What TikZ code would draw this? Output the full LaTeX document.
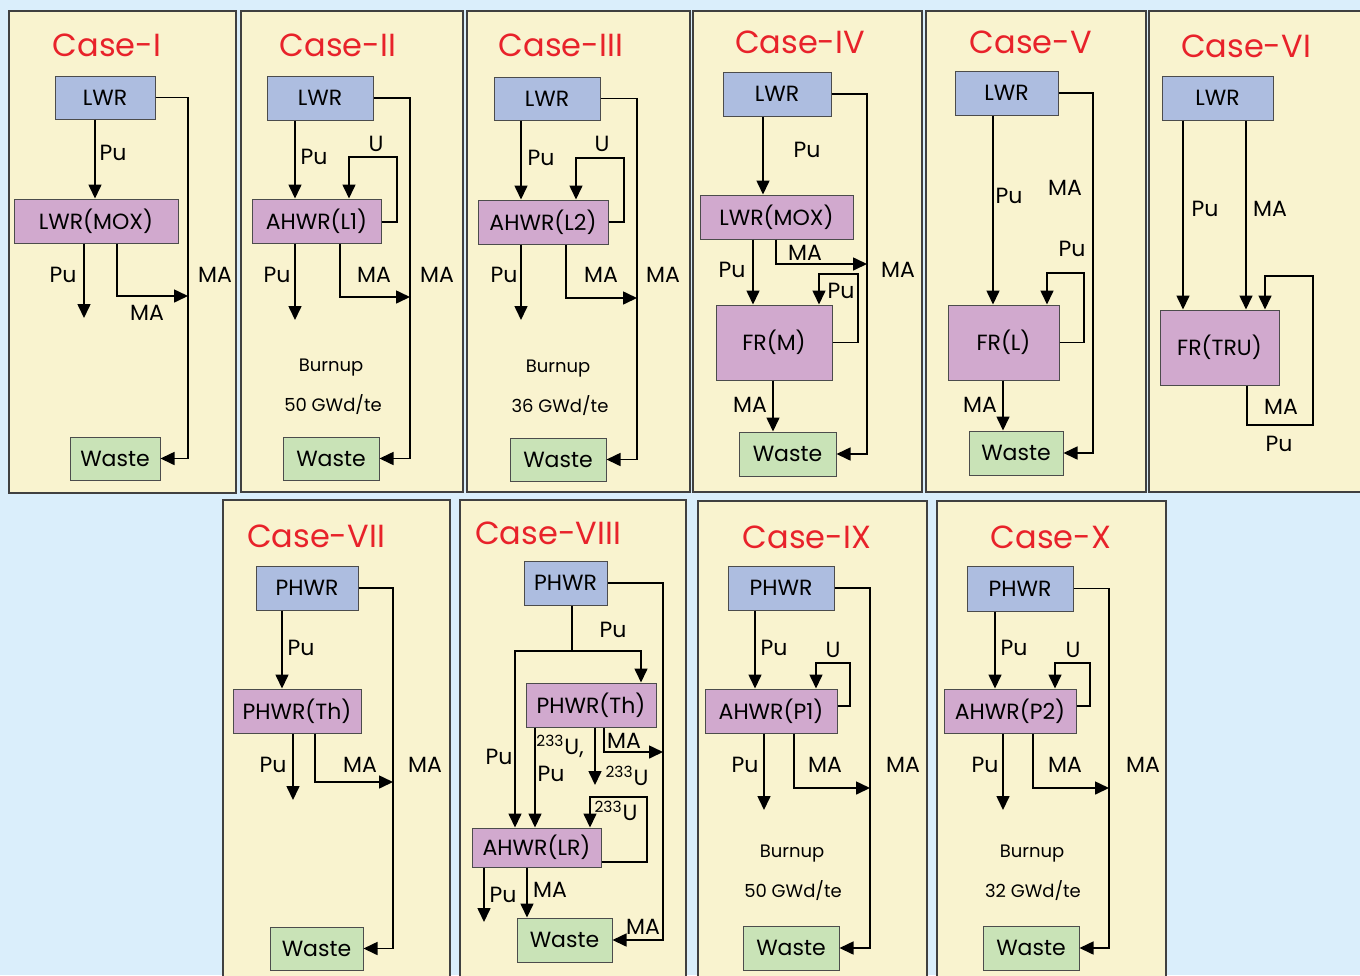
\documentclass[tikz,border=0pt]{standalone}
\usepackage{fontspec}
\setmainfont{Poppins}
\usetikzlibrary{arrows.meta, positioning, calc}
\definecolor{skyback}{HTML}{DAEEFB}
\definecolor{cream}{HTML}{F9F3CF}
\definecolor{lwrblue}{HTML}{ADBDE0}
\definecolor{mauve}{HTML}{D1A9CE}
\definecolor{wastegreen}{HTML}{C9E3B7}
\definecolor{casered}{HTML}{E8222A}

\tikzset{
  panel/.style={draw=black!75, fill=cream, line width=0.6pt},
  unit/.style={draw=black!70, line width=0.5pt, inner sep=0pt,
    font=\fontsize{11}{12}\selectfont},
  feed/.style={unit, fill=lwrblue},
  burner/.style={unit, fill=mauve},
  waste/.style={unit, fill=wastegreen},
  flow/.style={line width=0.8pt, -{Triangle[length=7pt, width=6.5pt]}},
  link/.style={line width=0.8pt},
  lbl/.style={font=\fontsize{11}{12}\selectfont, inner sep=0pt},
  note/.style={font=\fontsize{9}{10}\selectfont, inner sep=0pt},
  casetitle/.style={font=\fontsize{16}{18}\selectfont, text=casered, inner sep=0pt}
}
% box from its two corners, in pixels
\newcommand{\blk}[7]{%
  \node[#2, minimum width={(#5-#3)*0.5pt}, minimum height={(#6-#4)*0.5pt}]
    (#1) at ({(#3+#5)/2},{(#4+#6)/2}) {#7};}

\begin{document}
\begin{tikzpicture}[x=0.5pt, y=-0.5pt]
  \useasboundingbox (0,0) rectangle (1360,975);
  \clip (0,0) rectangle (1360,975);
  \fill[skyback] (0,0) rectangle (1360,975);
  \foreach \xa/\ya/\xb/\yb in {9/11/236/493, 241/11/463/492, 467/11/690/492,
      693/11/922/492, 926/11/1146/492, 1149/11/1370/492, 223/500/450/985,
      460/500/686/985, 698/501/927/985, 937/501/1166/985}{%
    \draw[panel] (\xa,\ya) rectangle (\xb,\yb);}

  % Case-I
  \node[casetitle] (t1) at (107,45) {Case-I};
  \blk{lwr1}{feed}{55}{76}{155}{119}{LWR}
  \blk{mox1}{burner}{14}{199}{178}{243}{LWR(MOX)}
  \blk{wst1}{waste}{70}{437}{160}{480}{Waste}
  \coordinate (j1) at (188,296);
  \coordinate (e1) at (84,318);
  \draw[flow] (lwr1.south -| 95,0) -- (mox1.north -| 95,0);
  \draw[flow] (mox1.south -| 84,0) -- (e1);
  \draw[flow] (mox1.south -| 117,0) |- (j1);
  \draw[flow] (lwr1.east) -| (wst1.east -| j1) -- (wst1.east);
  \node[lbl] (l1a) at (113,153) {Pu};
  \node[lbl] (l1b) at (63,275) {Pu};
  \node[lbl] (l1c) at (147,313) {MA};
  \node[lbl] (l1d) at (215,275) {MA};

  % Case-II
  \node[casetitle] (t2) at (338,45) {Case-II};
  \blk{lwr2}{feed}{267}{76}{373}{120}{LWR}
  \blk{ahw2}{burner}{252}{199}{381}{243}{AHWR(L1)}
  \blk{wst2}{waste}{283}{437}{379}{480}{Waste}
  \coordinate (j2) at (410,297);
  \coordinate (e2) at (295,320);
  \coordinate (u2) at (397,157);
  \draw[flow] (lwr2.south -| 295,0) -- (ahw2.north -| 295,0);
  \draw[flow] (ahw2.east |- 0,222) -| (u2) -| (ahw2.north -| 349,0);
  \draw[flow] (ahw2.south -| 295,0) -- (e2);
  \draw[flow] (ahw2.south -| 340,0) |- (j2);
  \draw[flow] (lwr2.east) -| (wst2.east -| j2) -- (wst2.east);
  \node[lbl] (l2a) at (314,157) {Pu};
  \node[lbl] (l2b) at (376,144) {U};
  \node[lbl] (l2c) at (277,275) {Pu};
  \node[lbl] (l2d) at (374,275) {MA};
  \node[lbl] (l2e) at (437,275) {MA};
  \node[note] (b2) at (331,368) {Burnup};
  \node[note] (g2) at (333,405) {50 GWd/te};

  % Case-III
  \node[casetitle] (t3) at (561,45) {Case-III};
  \blk{lwr3}{feed}{494}{77}{600}{120}{LWR}
  \blk{ahw3}{burner}{478}{200}{608}{244}{AHWR(L2)}
  \blk{wst3}{waste}{510}{438}{606}{481}{Waste}
  \coordinate (j3) at (637,298);
  \coordinate (e3) at (521,320);
  \coordinate (u3) at (624,158);
  \draw[flow] (lwr3.south -| 521,0) -- (ahw3.north -| 521,0);
  \draw[flow] (ahw3.east |- 0,222) -| (u3) -| (ahw3.north -| 576,0);
  \draw[flow] (ahw3.south -| 521,0) -- (e3);
  \draw[flow] (ahw3.south -| 566,0) |- (j3);
  \draw[flow] (lwr3.east) -| (wst3.east -| j3) -- (wst3.east);
  \node[lbl] (l3a) at (541,158) {Pu};
  \node[lbl] (l3b) at (602,144) {U};
  \node[lbl] (l3c) at (504,275) {Pu};
  \node[lbl] (l3d) at (601,275) {MA};
  \node[lbl] (l3e) at (663,275) {MA};
  \node[note] (b3) at (558,369) {Burnup};
  \node[note] (g3) at (560,406) {36 GWd/te};

  % Case-IV
  \node[casetitle] (t4) at (800,42) {Case-IV};
  \blk{lwr4}{feed}{723}{72}{831}{116}{LWR}
  \blk{mox4}{burner}{700}{195}{853}{239}{LWR(MOX)}
  \blk{fr4}{burner}{716}{305}{832}{380}{FR(M)}
  \blk{wst4}{waste}{739}{432}{836}{476}{Waste}
  \coordinate (j4) at (867,264);
  \coordinate (p4) at (858,274);
  \draw[flow] (lwr4.south -| 763,0) -- (mox4.north -| 763,0);
  \draw[flow] (mox4.south -| 753,0) -- (fr4.north -| 753,0);
  \draw[flow] (mox4.south -| 776,0) |- (j4);
  \draw[flow] (fr4.east) -| (p4) -| (fr4.north -| 819,0);
  \draw[flow] (fr4.south -| 773,0) -- (wst4.north -| 773,0);
  \draw[flow] (lwr4.east) -| (wst4.east -| j4) -- (wst4.east);
  \node[lbl] (l4a) at (807,150) {Pu};
  \node[lbl] (l4b) at (732,270) {Pu};
  \node[lbl] (l4c) at (805,253) {MA};
  \node[lbl] (l4d) at (841,291) {Pu};
  \node[lbl] (l4e) at (750,405) {MA};
  \node[lbl] (l4f) at (898,270) {MA};

  % Case-V
  \node[casetitle] (t5) at (1031,42) {Case-V};
  \blk{lwr5}{feed}{955}{71}{1058}{115}{LWR}
  \blk{fr5}{burner}{948}{305}{1059}{380}{FR(L)}
  \blk{wst5}{waste}{969}{431}{1063}{475}{Waste}
  \coordinate (p5) at (1084,273);
  \coordinate (r5) at (1093,453);
  \draw[flow] (lwr5.south -| 993,0) -- (fr5.north -| 993,0);
  \draw[flow] (fr5.east) -| (p5) -| (fr5.north -| 1047,0);
  \draw[flow] (fr5.south -| 1003,0) -- (wst5.north -| 1003,0);
  \draw[flow] (lwr5.east) -| (r5) -- (wst5.east);
  \node[lbl] (l5a) at (1009,196) {Pu};
  \node[lbl] (l5b) at (1065,188) {MA};
  \node[lbl] (l5c) at (1072,249) {Pu};
  \node[lbl] (l5d) at (980,405) {MA};

  % Case-VI
  \node[casetitle] (t6) at (1246,46) {Case-VI};
  \blk{lwr6}{feed}{1162}{76}{1273}{120}{LWR}
  \blk{fr6}{burner}{1160}{310}{1279}{385}{FR(TRU)}
  \coordinate (q6) at (1313,425);
  \coordinate (c6) at (1313,276);
  \draw[flow] (lwr6.south -| 1183,0) -- (fr6.north -| 1183,0);
  \draw[flow] (lwr6.south -| 1246,0) -- (fr6.north -| 1246,0);
  \draw[flow] (fr6.south -| 1247,0) |- (q6) -- (c6) -| (fr6.north -| 1265,0);
  \node[lbl] (l6a) at (1205,209) {Pu};
  \node[lbl] (l6b) at (1270,209) {MA};
  \node[lbl] (l6c) at (1281,407) {MA};
  \node[lbl] (l6d) at (1279,444) {Pu};

  % Case-VII
  \node[casetitle] (t7) at (316,536) {Case-VII};
  \blk{phw7}{feed}{256}{566}{358}{610}{PHWR}
  \blk{th7}{burner}{233}{689}{361}{733}{PHWR(Th)}
  \blk{wst7}{waste}{270}{927}{363}{970}{Waste}
  \coordinate (j7) at (393,782);
  \coordinate (e7) at (293,800);
  \draw[flow] (phw7.south -| 282,0) -- (th7.north -| 282,0);
  \draw[flow] (th7.south -| 293,0) -- (e7);
  \draw[flow] (th7.south -| 315,0) |- (j7);
  \draw[flow] (phw7.east) -| (wst7.east -| j7) -- (wst7.east);
  \node[lbl] (l7a) at (301,648) {Pu};
  \node[lbl] (l7b) at (273,765) {Pu};
  \node[lbl] (l7c) at (360,765) {MA};
  \node[lbl] (l7d) at (425,765) {MA};

  % Case-VIII
  \node[casetitle] (t8) at (548,533) {Case-VIII};
  \blk{phw8}{feed}{524}{561}{607}{605}{PHWR}
  \blk{th8}{burner}{526}{683}{656}{727}{PHWR(Th)}
  \blk{lr8}{burner}{472}{828}{601}{867}{AHWR(LR)}
  \blk{wst8}{waste}{517}{918}{612}{962}{Waste}
  \coordinate (s8) at (572,651);
  \coordinate (e8) at (595,785);
  \coordinate (j8) at (663,752);
  \coordinate (c8) at (647,797);
  \coordinate (f8) at (484,922);
  \draw[link] (phw8.south -| 572,0) -- (s8);
  \draw[flow] (s8) -| (th8.north -| 641,0);
  \draw[flow] (s8) -| (lr8.north -| 515,0);
  \draw[flow] (th8.south -| 535,0) -- (lr8.north -| 535,0);
  \draw[flow] (th8.south -| 595,0) -- (e8);
  \draw[flow] (th8.south -| 604,0) |- (j8);
  \draw[flow] (lr8.east |- 0,862) -| (c8) -| (lr8.north -| 590,0);
  \draw[flow] (lr8.south -| 484,0) -- (f8);
  \draw[flow] (lr8.south -| 527,0) -- (wst8.north -| 527,0);
  \draw[flow] (phw8.east) -| (wst8.east -| j8) -- (wst8.east);
  \node[lbl] (l8a) at (613,630) {Pu};
  \node[lbl] (l8b) at (499,757) {Pu};
  \node[lbl] (l8c) at (560,746) {\textsuperscript{233}U,};
  \node[lbl] (l8d) at (551,774) {Pu};
  \node[lbl] (l8e) at (627,776) {\textsuperscript{233}U};
  \node[lbl] (l8f) at (624,741) {MA};
  \node[lbl] (l8g) at (616,811) {\textsuperscript{233}U};
  \node[lbl] (l8h) at (503,895) {Pu};
  \node[lbl] (l8i) at (550,890) {MA};
  \node[lbl] (l8j) at (643,927) {MA};

  % Case-IX
  \node[casetitle] (t9) at (807,537) {Case-IX};
  \blk{phw9}{feed}{728}{566}{834}{610}{PHWR}
  \blk{ah9}{burner}{705}{689}{837}{733}{AHWR(P1)}
  \blk{wst9}{waste}{743}{926}{839}{970}{Waste}
  \coordinate (j9) at (870,788);
  \coordinate (e9) at (764,810);
  \coordinate (u9) at (850,663);
  \draw[flow] (phw9.south -| 755,0) -- (ah9.north -| 755,0);
  \draw[flow] (ah9.east |- 0,706) -| (u9) -| (ah9.north -| 816,0);
  \draw[flow] (ah9.south -| 764,0) -- (e9);
  \draw[flow] (ah9.south -| 794,0) |- (j9);
  \draw[flow] (phw9.east) -| (wst9.east -| j9) -- (wst9.east);
  \node[lbl] (l9a) at (774,648) {Pu};
  \node[lbl] (l9b) at (833,650) {U};
  \node[lbl] (l9c) at (745,765) {Pu};
  \node[lbl] (l9d) at (825,765) {MA};
  \node[lbl] (l9e) at (903,765) {MA};
  \node[note] (b9) at (792,854) {Burnup};
  \node[note] (g9) at (793,891) {50 GWd/te};

  % Case-X
  \node[casetitle] (t10) at (1051,537) {Case-X};
  \blk{phw10}{feed}{967}{566}{1073}{611}{PHWR}
  \blk{ah10}{burner}{944}{689}{1076}{733}{AHWR(P2)}
  \blk{wst10}{waste}{983}{926}{1079}{970}{Waste}
  \coordinate (j10) at (1109,788);
  \coordinate (e10) at (1003,810);
  \coordinate (u10) at (1090,663);
  \draw[flow] (phw10.south -| 995,0) -- (ah10.north -| 995,0);
  \draw[flow] (ah10.east |- 0,706) -| (u10) -| (ah10.north -| 1055,0);
  \draw[flow] (ah10.south -| 1003,0) -- (e10);
  \draw[flow] (ah10.south -| 1033,0) |- (j10);
  \draw[flow] (phw10.east) -| (wst10.east -| j10) -- (wst10.east);
  \node[lbl] (l10a) at (1014,648) {Pu};
  \node[lbl] (l10b) at (1073,650) {U};
  \node[lbl] (l10c) at (985,765) {Pu};
  \node[lbl] (l10d) at (1065,765) {MA};
  \node[lbl] (l10e) at (1143,765) {MA};
  \node[note] (b10) at (1032,854) {Burnup};
  \node[note] (g10) at (1033,891) {32 GWd/te};
\end{tikzpicture}
\end{document}
